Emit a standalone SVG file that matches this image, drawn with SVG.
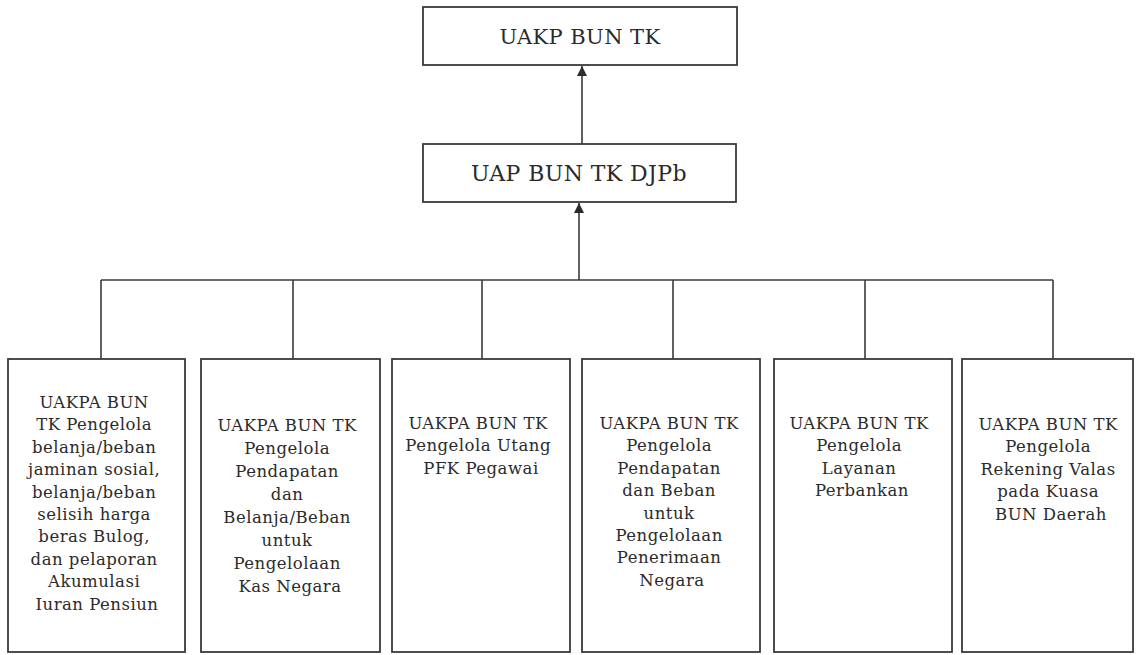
<svg xmlns="http://www.w3.org/2000/svg" width="1136" height="655" viewBox="0 0 1136 655">
  <style>
    .box { fill: #ffffff; stroke: #3a3a3a; stroke-width: 1.8; }
    .wire { fill: none; stroke: #3a3a3a; stroke-width: 1.6; }
    .lbl { font-family: "DejaVu Serif", "Liberation Serif", serif; fill: #2b2b2b; text-anchor: middle; }
    .big { font-size: 21px; letter-spacing: 0.4px; }
    .small { font-size: 16.5px; letter-spacing: 0.5px; }
  </style>
  <defs>
    <marker id="arrow" viewBox="0 0 10 12" refX="10" refY="6" markerWidth="10" markerHeight="12" markerUnits="userSpaceOnUse" orient="auto">
      <path d="M0,1 L10,6 L0,11 Z" fill="#2b2b2b"/>
    </marker>
  </defs>
  <rect width="1136" height="655" fill="#ffffff"/>

  <!-- connectors -->
  <g id="connectors">
    <path class="wire" d="M582,144 L582,66" marker-end="url(#arrow)"/>
    <path class="wire" d="M579,280 L579,203" marker-end="url(#arrow)"/>
    <path class="wire" d="M101,280 L1053,280"/>
    <path class="wire" d="M101,280 L101,359"/>
    <path class="wire" d="M293,280 L293,359"/>
    <path class="wire" d="M482,280 L482,359"/>
    <path class="wire" d="M673,280 L673,359"/>
    <path class="wire" d="M865,280 L865,359"/>
    <path class="wire" d="M1053,280 L1053,359"/>
  </g>

  <g id="uakp">
    <rect class="box" x="423" y="7" width="314" height="58"/>
    <text class="lbl big" x="580" y="44">UAKP BUN TK</text>
  </g>

  <g id="uap">
    <rect class="box" x="423" y="144" width="313" height="58"/>
    <text class="lbl big" x="579" y="181" style="font-size:22px">UAP BUN TK DJPb</text>
  </g>

  <g id="uakpa-jaminan">
    <rect class="box" x="8" y="359" width="177" height="293"/>
    <text class="lbl small" y="408">
      <tspan x="97">UAKPA BUN</tspan>
      <tspan x="97" dy="22.4">TK Pengelola</tspan>
      <tspan x="97" dy="22.4">belanja/beban</tspan>
      <tspan x="97" dy="22.4">jaminan sosial,</tspan>
      <tspan x="97" dy="22.4">belanja/beban</tspan>
      <tspan x="97" dy="22.4">selisih harga</tspan>
      <tspan x="97" dy="22.4">beras Bulog,</tspan>
      <tspan x="97" dy="22.4">dan pelaporan</tspan>
      <tspan x="97" dy="22.4">Akumulasi</tspan>
      <tspan x="97" dy="22.4">Iuran Pensiun</tspan>
    </text>
  </g>

  <g id="uakpa-kas">
    <rect class="box" x="201" y="359" width="179" height="293"/>
    <text class="lbl small" y="431">
      <tspan x="290">UAKPA BUN TK</tspan>
      <tspan x="290" dy="23">Pengelola</tspan>
      <tspan x="290" dy="23">Pendapatan</tspan>
      <tspan x="290" dy="23">dan</tspan>
      <tspan x="290" dy="23">Belanja/Beban</tspan>
      <tspan x="290" dy="23">untuk</tspan>
      <tspan x="290" dy="23">Pengelolaan</tspan>
      <tspan x="290" dy="23">Kas Negara</tspan>
    </text>
  </g>

  <g id="uakpa-utang">
    <rect class="box" x="392" y="359" width="178" height="293"/>
    <text class="lbl small" y="429">
      <tspan x="481">UAKPA BUN TK</tspan>
      <tspan x="481" dy="22.4">Pengelola Utang</tspan>
      <tspan x="481" dy="22.4">PFK Pegawai</tspan>
    </text>
  </g>

  <g id="uakpa-penerimaan">
    <rect class="box" x="582" y="359" width="178" height="293"/>
    <text class="lbl small" y="429">
      <tspan x="672">UAKPA BUN TK</tspan>
      <tspan x="672" dy="22.4">Pengelola</tspan>
      <tspan x="672" dy="22.4">Pendapatan</tspan>
      <tspan x="672" dy="22.4">dan Beban</tspan>
      <tspan x="672" dy="22.4">untuk</tspan>
      <tspan x="672" dy="22.4">Pengelolaan</tspan>
      <tspan x="672" dy="22.4">Penerimaan</tspan>
      <tspan x="672" dy="22.4">Negara</tspan>
    </text>
  </g>

  <g id="uakpa-perbankan">
    <rect class="box" x="774" y="359" width="178" height="293"/>
    <text class="lbl small" y="429">
      <tspan x="862">UAKPA BUN TK</tspan>
      <tspan x="862" dy="22.4">Pengelola</tspan>
      <tspan x="862" dy="22.4">Layanan</tspan>
      <tspan x="862" dy="22.4">Perbankan</tspan>
    </text>
  </g>

  <g id="uakpa-valas">
    <rect class="box" x="962" y="359" width="171" height="293"/>
    <text class="lbl small" y="430">
      <tspan x="1051">UAKPA BUN TK</tspan>
      <tspan x="1051" dy="22.4">Pengelola</tspan>
      <tspan x="1051" dy="22.4">Rekening Valas</tspan>
      <tspan x="1051" dy="22.4">pada Kuasa</tspan>
      <tspan x="1051" dy="22.4">BUN Daerah</tspan>
    </text>
  </g>
</svg>
